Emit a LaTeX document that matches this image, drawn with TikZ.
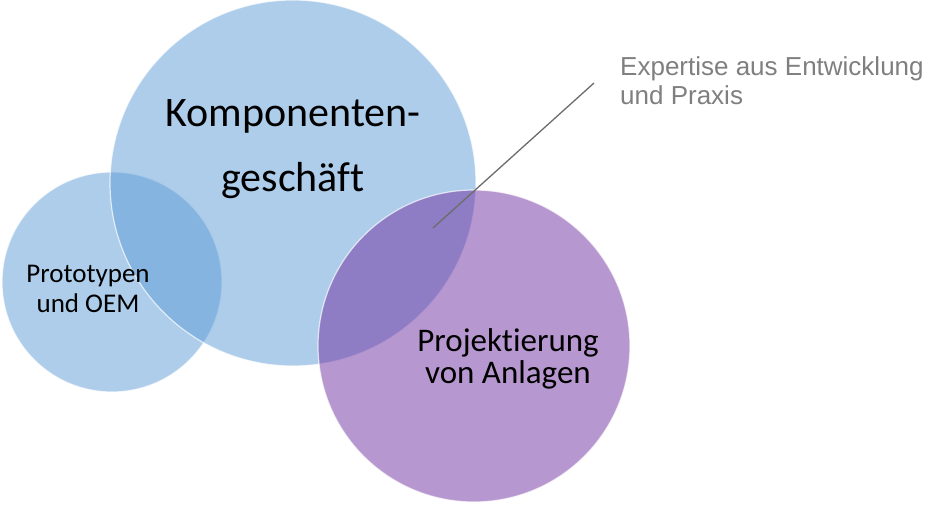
\documentclass[tikz,border=0pt]{standalone}
\usepackage{fontspec}
\setmainfont[Ligatures=NoCommon]{Carlito}
\newfontfamily\notefont{Liberation Sans}
\usepackage{xcolor}
\definecolor{venn-blue}{HTML}{5B9BD5}
\definecolor{venn-purple}{HTML}{7030A0}
\definecolor{note-gray}{HTML}{7F7F7F}
\tikzset{
    venn-circle/.style = {circle, draw=white, line width=1.2pt, draw opacity=0.7, fill opacity=0.5, inner sep=0pt},
    blue-circle/.style = {venn-circle, fill=venn-blue},
    purple-circle/.style = {venn-circle, fill=venn-purple},
    circle-label/.style = {align=center, text=black, inner sep=0pt, anchor=base},
    note-text/.style = {align=left, text=note-gray, inner sep=0pt, anchor=base west, font=\notefont\fontsize{26}{29}\selectfont},
    note-line/.style = {draw=gray!85!black, line width=1.3pt},
}

\begin{document}
\begin{tikzpicture}[x=1pt, y=-1pt]
\useasboundingbox (0,0) rectangle (930,505);
\node [blue-circle, minimum size=220pt] (prototypen) at (112,282) {};
\node [blue-circle, minimum size=366pt] (komponenten) at (293,183) {};
\node [purple-circle, minimum size=312pt] (projektierung) at (474,346) {};

% base anchor sits on the last line
\node [circle-label, font=\fontsize{42}{65}\selectfont] (komponenten-text) at (293,192) {Komponenten-\\geschäft};
\node [circle-label, font=\fontsize{27}{31}\selectfont] (prototypen-text) at (88,313) {Prototypen\\und OEM};
\node [circle-label, font=\fontsize{33}{32}\selectfont] (projektierung-text) at (508,383) {Projektierung\\von Anlagen};

\node [note-text] (expertise) at (620,105) {Expertise aus Entwicklung\\und Praxis};
\coordinate (overlap-tip) at (433,228);
\coordinate (note-end) at (594,83);
\draw [note-line] (overlap-tip) -- (note-end);
\end{tikzpicture}
\end{document}
